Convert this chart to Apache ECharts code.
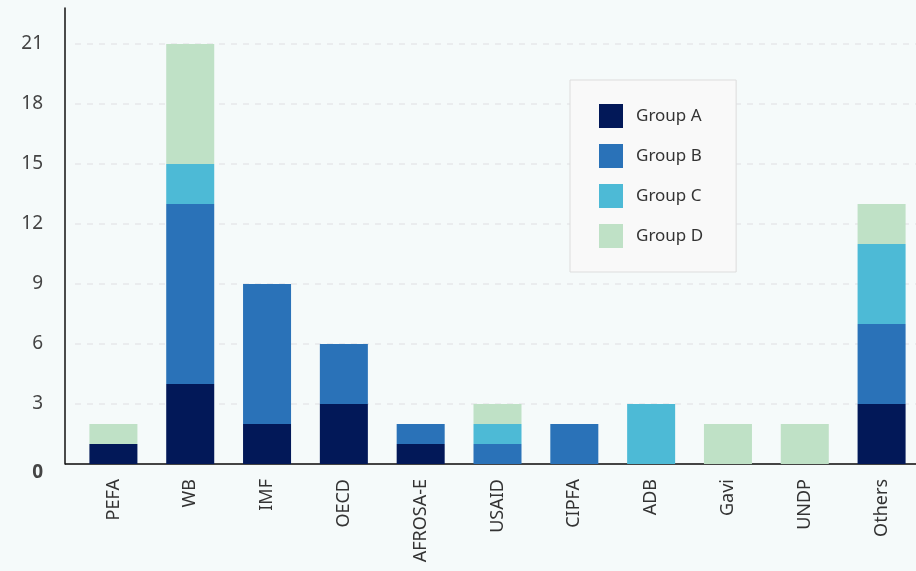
<!DOCTYPE html>
<html>
<head>
<meta charset="utf-8">
<script src="https://cdn.jsdelivr.net/npm/echarts@6/dist/echarts.min.js"></script>
<style>
  html, body { margin: 0; padding: 0; background: #f5fafa; overflow: hidden; }
  #chart { width: 920px; height: 571px; }
</style>
</head>
<body>
<div id="chart"></div>
<script>
  // categories and stacked values (0 = no segment)
  const categories = ['PEFA', 'WB', 'IMF', 'OECD', 'AFROSA-E', 'USAID', 'CIPFA', 'ADB', 'Gavi', 'UNDP', 'Others']
  const groupA = [1, 4, 2, 3, 1, 0, 0, 0, 0, 0, 3]
  const groupB = [0, 9, 7, 3, 1, 1, 2, 0, 0, 0, 4]
  const groupC = [0, 2, 0, 0, 0, 1, 0, 3, 0, 0, 4]
  const groupD = [1, 6, 0, 0, 0, 1, 0, 0, 2, 2, 2]
  const groupNames = ['Group A', 'Group B', 'Group C', 'Group D']
  const colors = ['#021858', '#2a72b8', '#4dbad6', '#bfe1c6']

  const chart = echarts.init(document.getElementById('chart'))

  const seriesData = [groupA, groupB, groupC, groupD]

  chart.setOption({
    backgroundColor: '#f5fafa',
    animation: false,
    textStyle: { fontFamily: 'Noto Sans' },
    grid: {
      left: 75,
      right: 0,
      top: 8,
      bottom: 107
    },
    legend: {
      orient: 'vertical',
      left: 570,
      top: 80,
      padding: [24, 33, 24, 29],
      backgroundColor: '#f9f9f9',
      borderColor: '#dddddd',
      borderWidth: 1,
      itemWidth: 24,
      itemHeight: 24,
      itemGap: 16,
      icon: 'rect',
      textStyle: { fontSize: 17, color: '#333', padding: [0, 0, 0, 8] },
      data: groupNames
    },
    xAxis: {
      type: 'category',
      data: categories,
      axisTick: { show: false },
      axisLine: { lineStyle: { color: '#444', width: 2 } },
      axisLabel: {
        rotate: 90,
        margin: 15,
        fontSize: 18,
        color: '#333'
      }
    },
    yAxis: {
      type: 'value',
      min: 0,
      max: 22.8,
      interval: 3,
      offset: 10,
      axisLine: { show: true, lineStyle: { color: '#111', width: 1.5 } },
      axisTick: { show: false },
      splitLine: {
        showMinLine: false,
        showMaxLine: false,
        lineStyle: { color: '#e6e8ea', type: [6, 6], width: 1.5 }
      },
      axisLabel: {
        showMaxLabel: false,
        margin: 22,
        fontSize: 19,
        color: '#444',
        formatter: v => v === 0 ? '{zero|0}' : String(v),
        rich: {
          zero: { fontSize: 19, fontWeight: 'bold', color: '#444', padding: [18, 0, 0, 0] }
        }
      }
    },
    graphic: [{
      type: 'line',
      shape: { x1: 65, y1: 464, x2: 76, y2: 464 },
      style: { stroke: '#444', lineWidth: 2 }
    }],
    series: groupNames.map((name, i) => ({
      name: name,
      type: 'bar',
      stack: 'total',
      barWidth: '62.5%',
      itemStyle: { color: colors[i] },
      data: seriesData[i].map(v => v === 0 ? null : v)
    }))
  })
</script>
</body>
</html>
